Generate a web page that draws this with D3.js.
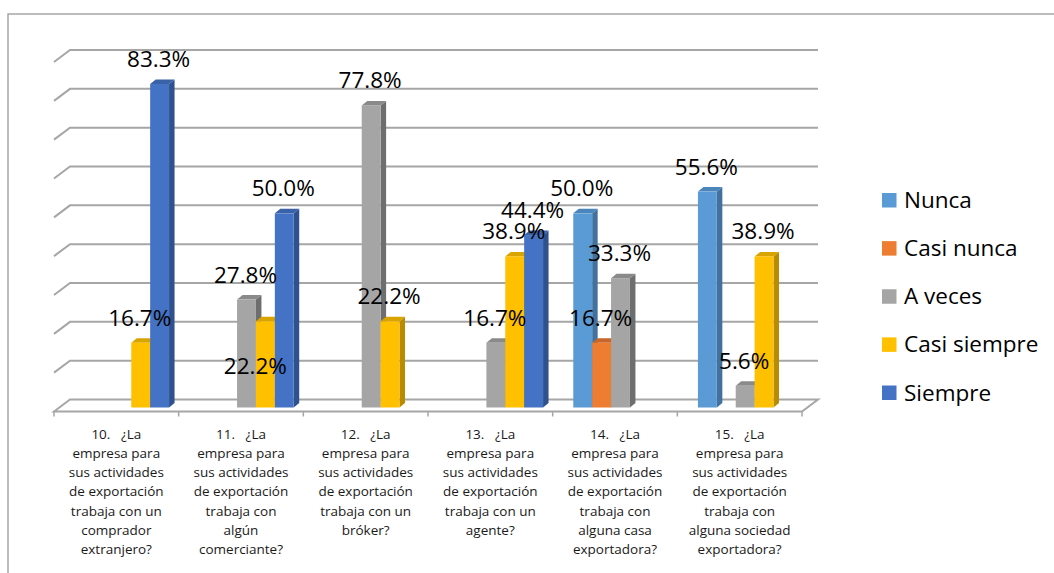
<!DOCTYPE html>
<html>
<head>
<meta charset="utf-8">
<script src="https://cdn.jsdelivr.net/npm/d3@7/dist/d3.min.js"></script>
<style>
  html, body { margin: 0; padding: 0; background: #fff; }
  svg { display: block; }
  text { font-family: "Open Sans", "Noto Sans", sans-serif; }
</style>
</head>
<body>
<svg id="chart" width="1054" height="573"></svg>
<script>
// Survey questions (category axis), one line per entry after splitting on "\n"
const categories = [
  "10.   ¿La\nempresa para\nsus actividades\nde exportación\ntrabaja con un\ncomprador\nextranjero?",
  "11.   ¿La\nempresa para\nsus actividades\nde exportación\ntrabaja con\nalgún\ncomerciante?",
  "12.   ¿La\nempresa para\nsus actividades\nde exportación\ntrabaja con un\nbróker?",
  "13.   ¿La\nempresa para\nsus actividades\nde exportación\ntrabaja con un\nagente?",
  "14.   ¿La\nempresa para\nsus actividades\nde exportación\ntrabaja con\nalguna casa\nexportadora?",
  "15.   ¿La\nempresa para\nsus actividades\nde exportación\ntrabaja con\nalguna sociedad\nexportadora?"
];

const seriesNames = ["Nunca", "Casi nunca", "A veces", "Casi siempre", "Siempre"];

// Percentages per answer; null where no bar is drawn
const nunca       = [null, null, null, null, 50.0, 55.6];
const casiNunca   = [null, null, null, null, 16.7, null];
const aVeces      = [null, 27.8, 77.8, 16.7, 33.3, 5.6];
const casiSiempre = [16.7, 22.2, 22.2, 38.9, null, 38.9];
const siempre     = [83.3, 50.0, null, 44.4, null, null];

const seriesValues = [nunca, casiNunca, aVeces, casiSiempre, siempre];

// Value axis gridlines (no tick labels shown)
const gridTicks = [0, 10, 20, 30, 40, 50, 60, 70, 80, 90];

// Face colours: front / side / top
const colors = {
  "Nunca":        { front: "#5B9BD5", side: "#41719C", top: "#4A85BC" },
  "Casi nunca":   { front: "#ED7D31", side: "#AE5A21", top: "#C9652A" },
  "A veces":      { front: "#A5A5A5", side: "#6E6E6E", top: "#8A8A8A" },
  "Casi siempre": { front: "#FFC000", side: "#B88B00", top: "#D9A300" },
  "Siempre":      { front: "#4472C4", side: "#2F528F", top: "#3A62A8" }
};

// One label sits away from its bar in the layout
const labelNudge = { "1|Casi siempre": [-9, 70] };

const svg = d3.select("#chart");

// Outer chart frame (top and left edges)
svg.append("path")
  .attr("d", "M8,573 L8,14 L1054,14")
  .attr("fill", "none").attr("stroke", "#a6a6a6").attr("stroke-width", 1.5);

// Floor-front plane geometry
const x = d3.scaleBand().domain(d3.range(categories.length)).range([54, 802]).padding(0);
const y = d3.scaleLinear().domain([0, 90]).range([411.5, 62]);
const inner = d3.scaleBand().domain(seriesNames).range([0, x.step()]).paddingInner(0).paddingOuter(0.8);

// depth projection
const depth = { dx: 16, dy: -12 };        // floor front -> back wall
const barShift = { dx: 5.5, dy: -4 };     // floor front -> bar front face
const barDepth = { dx: 5.5, dy: -4.5 };   // bar front face -> bar back face

const gridColor = "#a6a6a6";

// Back-wall gridlines with the left-wall diagonals
const grid = svg.append("g");
gridTicks.forEach(t => {
  if (t === 0) return;
  const yy = y(t);
  grid.append("path")
    .attr("d", `M${x.range()[0]},${yy} L${x.range()[0] + depth.dx},${yy + depth.dy} L${x.range()[1] + depth.dx},${yy + depth.dy}`)
    .attr("fill", "none").attr("stroke", gridColor).attr("stroke-width", 2);
});

// Floor outline
const y0 = y(0);
const xl = x.range()[0], xr = x.range()[1];
grid.append("path")
  .attr("d", `M${xl},${y0} L${xl + depth.dx},${y0 + depth.dy} L${xr + depth.dx},${y0 + depth.dy} L${xr},${y0} Z`)
  .attr("fill", "#fff").attr("stroke", gridColor).attr("stroke-width", 2);

// Category ticks on the front floor edge
const tickPositions = d3.range(categories.length + 1).map(i => xl + i * x.step());
grid.selectAll("line.tick").data(tickPositions).join("line")
  .attr("x1", d => d).attr("x2", d => d)
  .attr("y1", y0).attr("y2", y0 + 5)
  .attr("stroke", gridColor).attr("stroke-width", 1.5);

// Bars
const bars = [];
categories.forEach((c, ci) => {
  seriesNames.forEach((s, si) => {
    const v = seriesValues[si][ci];
    if (v == null) return;
    bars.push({ ci, s, v });
  });
});

const bw = inner.bandwidth();
const barG = svg.append("g");
bars.forEach(b => {
  const fx = x(b.ci) + inner(b.s) + barShift.dx;
  const fb = y(0) + barShift.dy;
  const ft = y(b.v) + barShift.dy;
  const col = colors[b.s];
  const g = barG.append("g");
  // side face
  g.append("path")
    .attr("d", `M${fx + bw},${fb} L${fx + bw},${ft} L${fx + bw + barDepth.dx},${ft + barDepth.dy} L${fx + bw + barDepth.dx},${fb + barDepth.dy} Z`)
    .attr("fill", col.side);
  // top face
  g.append("path")
    .attr("d", `M${fx},${ft} L${fx + barDepth.dx},${ft + barDepth.dy} L${fx + bw + barDepth.dx},${ft + barDepth.dy} L${fx + bw},${ft} Z`)
    .attr("fill", col.top);
  // front face
  g.append("rect")
    .attr("x", fx).attr("y", ft).attr("width", bw).attr("height", fb - ft)
    .attr("fill", col.front);
});

// Value labels
const labelG = svg.append("g");
bars.forEach(b => {
  const fx = x(b.ci) + inner(b.s) + barShift.dx;
  const ft = y(b.v) + barShift.dy;
  const n = labelNudge[b.ci + "|" + b.s] || [0, 0];
  labelG.append("text")
    .attr("x", fx + bw / 2 - 1 + n[0])
    .attr("y", ft - 17 + n[1])
    .attr("text-anchor", "middle")
    .attr("font-size", 22.5)
    .attr("fill", "#000")
    .text(d3.format(".1f")(b.v) + "%");
});

// Category labels
const catG = svg.append("g");
categories.forEach((c, ci) => {
  const cx = x(ci) + x.step() / 2;
  const t = catG.append("text")
    .attr("text-anchor", "middle")
    .attr("font-size", 13.5)
    .attr("fill", "#1a1a1a")
    .style("white-space", "pre");
  c.split("\n").forEach((line, li) => {
    t.append("tspan").attr("x", cx).attr("y", 438.5 + li * 19.3).text(line);
  });
});

// Legend
const legend = svg.append("g");
const legendRow = d3.scalePoint().domain(seriesNames).range([200.5, 393]);
seriesNames.forEach(s => {
  const cy = legendRow(s);
  legend.append("rect")
    .attr("x", 882).attr("y", cy - 7.5).attr("width", 14.5).attr("height", 14.5)
    .attr("fill", colors[s].front);
  legend.append("text")
    .attr("x", 904).attr("y", cy + 7.5)
    .attr("font-size", 22.5)
    .attr("fill", "#000")
    .text(s);
});
</script>
</body>
</html>
